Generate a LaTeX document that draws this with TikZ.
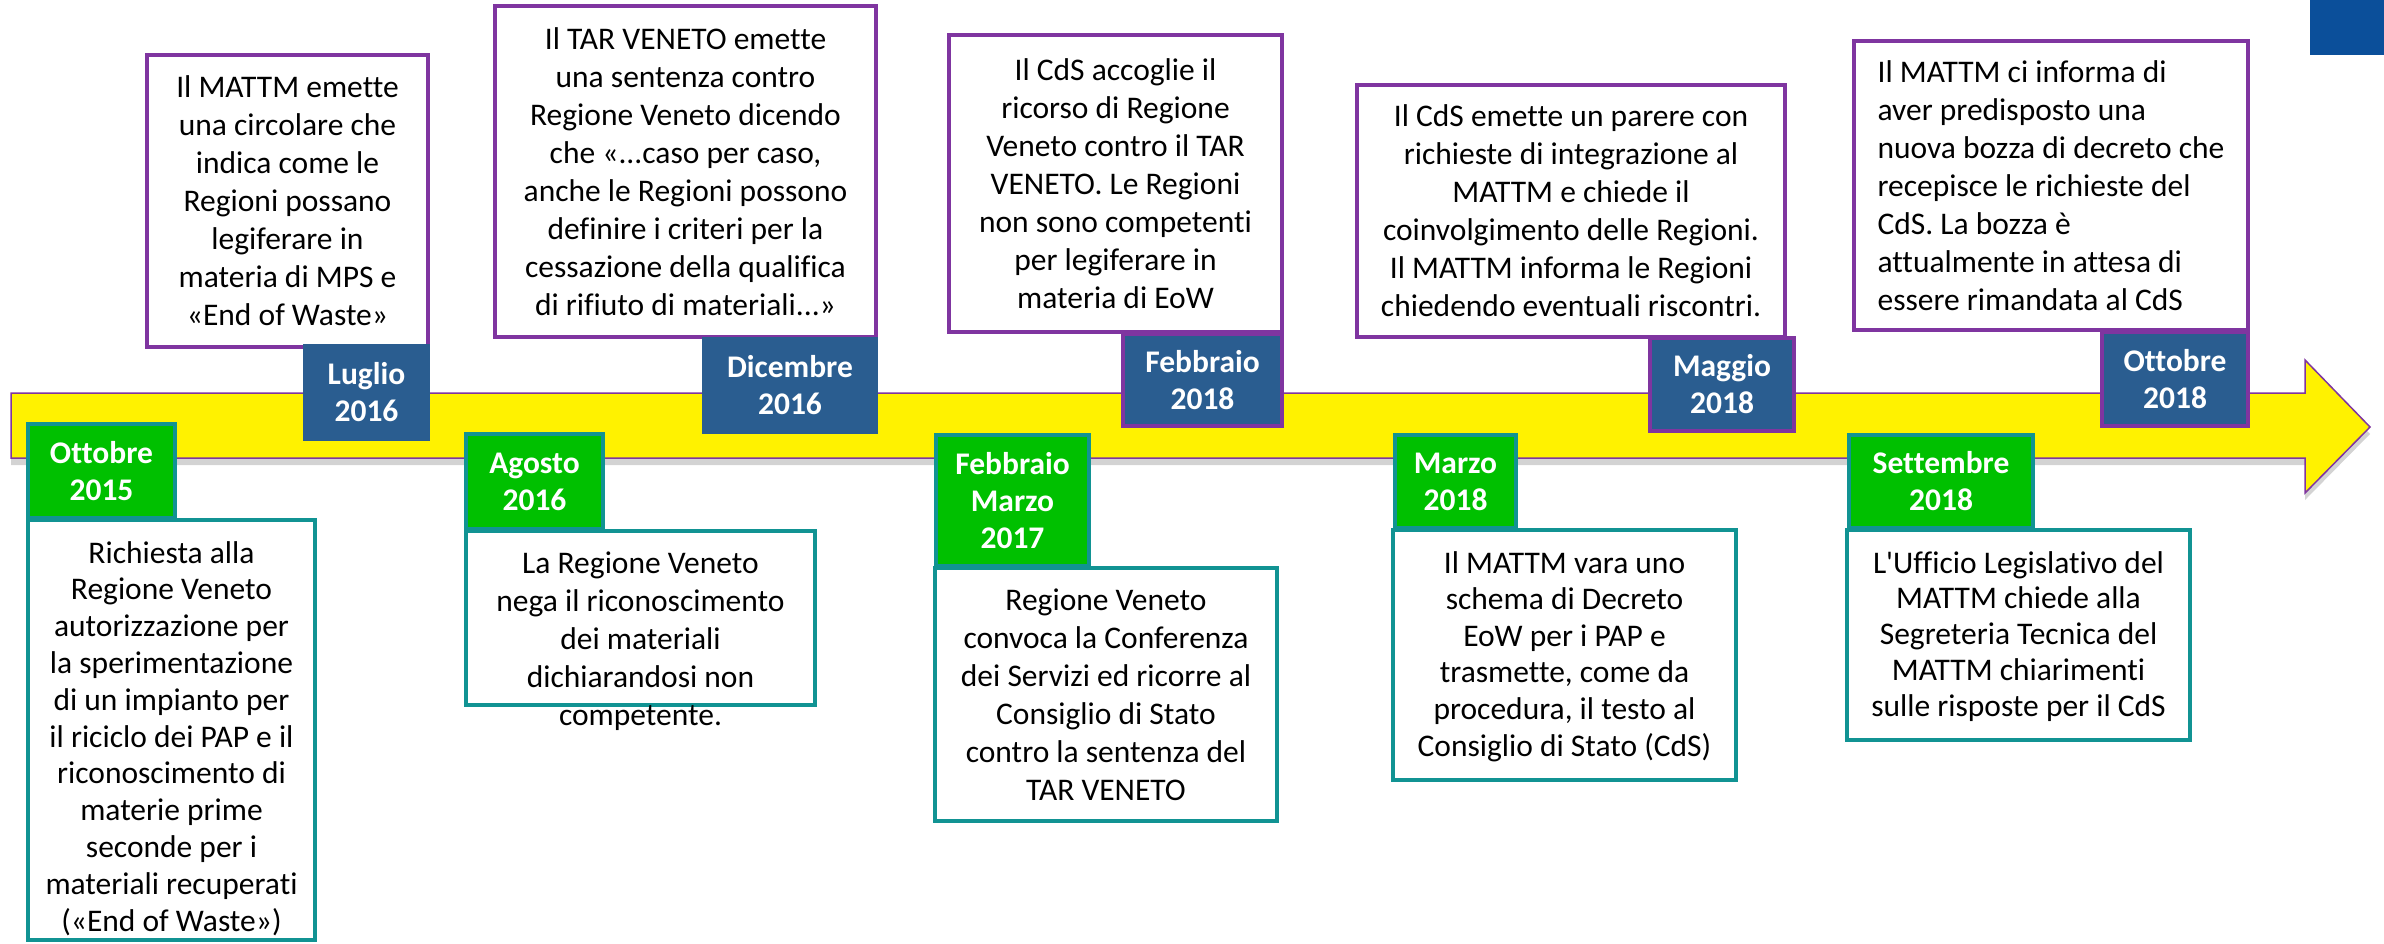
\documentclass[tikz,border=0pt]{standalone}
\usepackage{fontspec}
\setmainfont{Carlito}[Ligatures={NoCommon,TeXOff}]
\usetikzlibrary{shadows}
\definecolor{datablue}{HTML}{2A5D90}
\definecolor{datagreen}{HTML}{00C000}
\definecolor{boxteal}{HTML}{119393}
\definecolor{boxpurple}{HTML}{7F35A0}
\definecolor{slideblue}{HTML}{0B4F9A}
\begin{document}
\begin{tikzpicture}[x=1pt,y=-1pt,
    topcard/.style={draw=boxpurple, line width=4pt, fill=white, inner sep=0pt,
      font=\fontsize{31.5}{38}\selectfont, align=center},
    lowcard/.style={draw=boxteal, line width=4pt, fill=white, inner sep=0pt},
    lowtext/.style={font=\fontsize{31.5}{#1}\selectfont, align=center, anchor=north,
      inner sep=0pt, yshift=-23pt},
    lowtext/.default=38,
    bluedate/.style={fill=datablue, text=white, inner sep=0pt, align=center,
      font=\bfseries\fontsize{31.5}{37}\selectfont},
    greendate/.style={bluedate, fill=datagreen, draw=boxteal, line width=4pt}]
    \useasboundingbox (0,0) rectangle (2384,944);
    \fill[slideblue] (2310,0) rectangle (2384,55);
    \draw[boxpurple, line width=1.5pt, fill=yellow,
      drop shadow={shadow xshift=0pt, shadow yshift=-7pt, opacity=.35}]
      (11,393) -- (2305,393) -- (2305,360) -- (2370,427) -- (2305,493)
      -- (2305,458) -- (11,458) -- cycle;
    \node[topcard, minimum width=281, minimum height=292] (lugtxt) at (287.5,201)
      {Il MATTM emette\\una circolare che\\indica come le\\Regioni possano\\legiferare in\\materia di MPS e\\«End of Waste»};
    \node[topcard, minimum width=381, minimum height=331] (dictxt) at (685.5,171.5)
      {Il TAR VENETO emette\\una sentenza contro\\Regione Veneto dicendo\\che «...caso per caso,\\anche le Regioni possono\\definire i criteri per la\\cessazione della qualifica\\di rifiuto di materiali...»};
    \node[topcard, minimum width=333, minimum height=297] (febtxt) at (1115.5,183.5)
      {Il CdS accoglie il\\ricorso di Regione\\Veneto contro il TAR\\VENETO. Le Regioni\\non sono competenti\\per legiferare in\\materia di EoW};
    \node[topcard, minimum width=428, minimum height=252] (magtxt) at (1571,211)
      {Il CdS emette un parere con\\richieste di integrazione al\\MATTM e chiede il\\coinvolgimento delle Regioni.\\Il MATTM informa le Regioni\\chiedendo eventuali riscontri.};
    \node[topcard, align=left, minimum width=394, minimum height=289] (otttxt) at (2051,185.5)
      {Il MATTM ci informa di\\aver predisposto una\\nuova bozza di decreto che\\recepisce le richieste del\\CdS. La bozza è\\attualmente in attesa di\\essere rimandata al CdS};
    \node[bluedate, minimum width=127, minimum height=97] (lug) at (366.5,392.5) {Luglio\\2016};
    \node[bluedate, minimum width=176, minimum height=97] (dic) at (790,385.5) {Dicembre\\2016};
    \node[bluedate, draw=boxpurple, line width=4pt, minimum width=159, minimum height=92] (feb18) at (1202.5,380) {Febbraio\\2018};
    \node[bluedate, draw=boxpurple, line width=4pt, minimum width=144, minimum height=93] (mag18) at (1722,384.5) {Maggio\\2018};
    \node[bluedate, draw=boxpurple, line width=4pt, minimum width=146, minimum height=94] (ott18) at (2175,379) {Ottobre\\2018};
    \node[lowcard, minimum width=287, minimum height=420] (ottcard) at (171.5,730) {};
    \node[lowtext=36.8] (ottlow) at (ottcard.north)
      {Richiesta alla\\Regione Veneto\\autorizzazione per\\la sperimentazione\\di un impianto per\\il riciclo dei PAP e il\\riconoscimento di\\materie prime\\seconde per i\\materiali recuperati\\(«End of Waste»)};
    \node[lowcard, minimum width=349, minimum height=174] (agocard) at (640.5,618) {};
    \node[lowtext] (agolow) at (agocard.north)
      {La Regione Veneto\\nega il riconoscimento\\dei materiali\\dichiarandosi non\\competente.};
    \node[lowcard, minimum width=342, minimum height=253] (fmcard) at (1106,694.5) {};
    \node[lowtext] (fmlow) at (fmcard.north)
      {Regione Veneto\\convoca la Conferenza\\dei Servizi ed ricorre al\\Consiglio di Stato\\contro la sentenza del\\TAR VENETO};
    \node[lowcard, minimum width=343, minimum height=250] (marcard) at (1564.5,655) {};
    \node[lowtext=36.6] (marlow) at (marcard.north)
      {Il MATTM vara uno\\schema di Decreto\\EoW per i PAP e\\trasmette, come da\\procedura, il testo al\\Consiglio di Stato (CdS)};
    \node[lowcard, minimum width=343, minimum height=210] (setcard) at (2018.5,635) {};
    \node[lowtext=35.8] (setlow) at (setcard.north)
      {L'Ufficio Legislativo del\\MATTM chiede alla\\Segreteria Tecnica del\\MATTM chiarimenti\\sulle risposte per il CdS};
    \node[greendate, minimum width=147, minimum height=94] (ott15) at (101.5,471) {Ottobre\\2015};
    \node[greendate, minimum width=137, minimum height=95] (ago16) at (534.5,481.5) {Agosto\\2016};
    \node[greendate, minimum width=153, minimum height=131] (fm17) at (1012.5,500.5) {Febbraio\\Marzo\\2017};
    \node[greendate, minimum width=121, minimum height=93] (mar18) at (1455.5,481.5) {Marzo\\2018};
    \node[greendate, minimum width=184, minimum height=93] (set18) at (1941,481.5) {Settembre\\2018};
\end{tikzpicture}
\end{document}
